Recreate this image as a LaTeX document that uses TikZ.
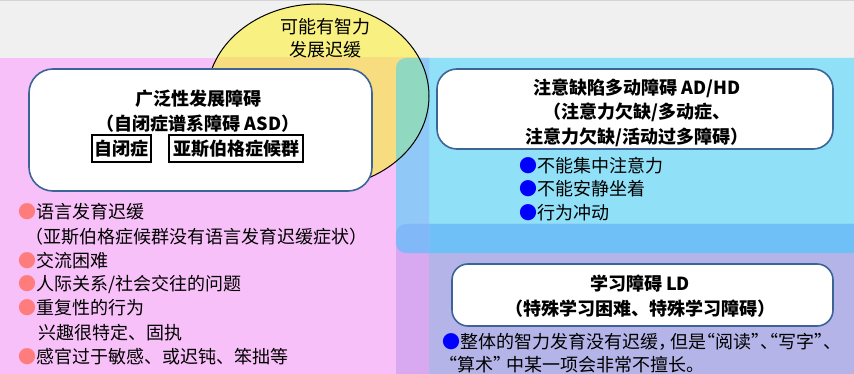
\documentclass[tikz,border=0pt]{standalone}
\usepackage{fontspec}
\setmainfont{Noto Sans CJK SC}
\newfontfamily\cjkhalt[RawFeature=+halt]{Noto Sans CJK SC}
\usetikzlibrary{shapes.geometric}
\definecolor{topgray}{HTML}{F0F0F0}
\definecolor{topline}{HTML}{D4D4D4}
\definecolor{pinkbg}{HTML}{F8C0F8}
\definecolor{bluebg}{HTML}{90E0F8}
\definecolor{lavbg}{HTML}{B4B4E8}
\definecolor{pkbl}{HTML}{90C8F8}
\definecolor{pklv}{HTML}{D8A8F0}
\definecolor{bllv}{HTML}{70C0F8}
\definecolor{pkbllv}{HTML}{80B8F8}
\definecolor{ellY}{HTML}{F8F080}
\definecolor{ellO}{HTML}{F8DC80}
\definecolor{ellG}{HTML}{90D8C0}
\definecolor{boxedge}{HTML}{3C6496}
\definecolor{bulpink}{HTML}{FF7C7C}
\definecolor{bulblue}{HTML}{0000FF}
\tikzset{
  wbox/.style={draw=boxedge, line width=1.6pt, fill=white, inner sep=0pt},
  hd/.style={font=\bfseries\fontsize{18}{24.5}\selectfont, align=center, inner sep=0pt},
  bl/.style={font=\fontsize{18}{23.5}\selectfont, anchor=west, inner sep=0pt},
  ldl/.style={font=\cjkhalt\fontsize{18}{23}\selectfont, anchor=west, inner sep=0pt},
  tagbox/.style={draw=black, line width=1.5pt, inner sep=0pt, minimum height=27pt, font=\bfseries\fontsize{18}{24}\selectfont},
  elltext/.style={font=\fontsize{18}{23}\selectfont, align=center, inner sep=0pt}
}
\begin{document}
\begin{tikzpicture}[x=1pt,y=-1pt]
\useasboundingbox (0,0) rectangle (854,374);
% backgrounds
\fill[topgray] (0,0) rectangle (854,58);
\fill[topline] (0,0) rectangle (854,1.2);
\fill[pinkbg] (0,58) rectangle (429,374);
\fill[bluebg, rounded corners=10pt] (396,58) rectangle (880,253);
\fill[lavbg, rounded corners=10pt] (396,224) rectangle (880,400);
\begin{scope}
  \clip[rounded corners=10pt] (396,58) rectangle (880,253);
  \fill[bllv, rounded corners=10pt] (396,224) rectangle (880,400);
\end{scope}
\begin{scope}
  \clip (0,58) rectangle (429,374);
  \fill[pkbl, rounded corners=10pt] (396,58) rectangle (880,253);
  \fill[pklv, rounded corners=10pt] (396,224) rectangle (880,400);
  \clip[rounded corners=10pt] (396,58) rectangle (880,253);
  \fill[pkbllv, rounded corners=10pt] (396,224) rectangle (880,400);
\end{scope}
% ellipse
\fill[ellY] (318,96) ellipse [x radius=111pt, y radius=92pt];
\begin{scope}
  \clip (0,58) rectangle (429,374);
  \fill[ellO] (318,96) ellipse [x radius=111pt, y radius=92pt];
  \clip[rounded corners=10pt] (396,58) rectangle (880,253);
  \fill[ellG] (318,96) ellipse [x radius=111pt, y radius=92pt];
\end{scope}
\draw[black, line width=1pt] (318,96) ellipse [x radius=111pt, y radius=92pt];
\node[elltext] (ellt) at (325,38.5) {可能有智力\\发展迟缓};
% ASD box
\node[wbox, rounded corners=24pt, minimum width=343pt, minimum height=122pt] (asd) at (200.5,130) {};
\node[hd] (asdt) at (198,111) {广泛性发展障碍\\（自闭症谱系障碍 ASD）};
\node[tagbox, minimum width=59pt] (tag1) at (121.5,148.5) {自闭症};
\node[tagbox, minimum width=134pt] (tag2) at (236,148.5) {亚斯伯格症候群};
% ADHD box
\node[wbox, rounded corners=20pt, minimum width=396pt, minimum height=80pt] (adhd) at (635,109) {};
\node[hd] (adhdt) at (637,112.5) {注意缺陷多动障碍 AD/HD\\（注意力欠缺/多动症、\\注意力欠缺/活动过多障碍）};
% LD box
\node[wbox, rounded corners=16pt, minimum width=381pt, minimum height=62pt] (ld) at (642.5,295) {};
\node[hd] (ldt) at (640,296) {学习障碍 LD\\（特殊学习困难、特殊学习障碍）};
% left bullets
\node[bl] (a1) at (18,212) {\textcolor{bulpink}{●}语言发育迟缓};
\node[bl] (a2) at (25,237) {（亚斯伯格症候群没有语言发育迟缓症状）};
\node[bl] (a3) at (18,261) {\textcolor{bulpink}{●}交流困难};
\node[bl] (a4) at (18,284) {\textcolor{bulpink}{●}人际关系/社会交往的问题};
\node[bl] (a5) at (18,308) {\textcolor{bulpink}{●}重复性的行为};
\node[bl] (a6) at (38,333) {兴趣很特定、固执};
\node[bl] (a7) at (18,357) {\textcolor{bulpink}{●}感官过于敏感、或迟钝、笨拙等};
% right bullets
\node[bl] (b1) at (519,166) {\textcolor{bulblue}{●}不能集中注意力};
\node[bl] (b2) at (519,189) {\textcolor{bulblue}{●}不能安静坐着};
\node[bl] (b3) at (519,213) {\textcolor{bulblue}{●}行为冲动};
% LD bullet
\node[ldl] (c1) at (442,342) {\textcolor{bulblue}{●}整体的智力发育没有迟缓，\,但是“阅读”、“写字”、};
\node[ldl] (c2) at (448,365) {“算术” 中某一项会非常不擅长。};
\end{tikzpicture}
\end{document}
